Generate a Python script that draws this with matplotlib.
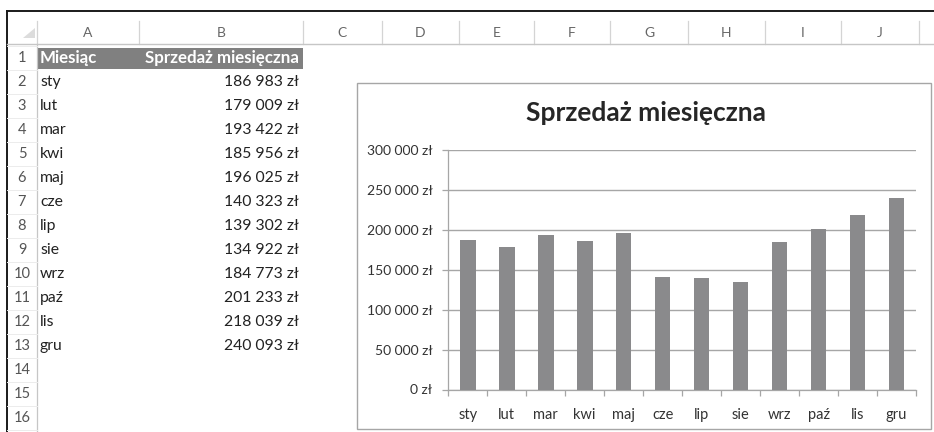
import numpy as np
import matplotlib
matplotlib.use("Agg")
import matplotlib.pyplot as plt
from matplotlib.patches import Rectangle, Polygon
from matplotlib.ticker import FuncFormatter, FixedLocator

plt.rcParams['font.family'] = ['Lato', 'DejaVu Sans']

# data from the sheet
months = ['sty', 'lut', 'mar', 'kwi', 'maj', 'cze', 'lip', 'sie', 'wrz', 'paź', 'lis', 'gru']
sales = [186983, 179009, 193422, 185956, 196025, 140323, 139302, 134922,
         184773, 201233, 218039, 240093]
col_letters = ['A', 'B', 'C', 'D', 'E', 'F', 'G', 'H', 'I', 'J']
header_a = 'Miesiąc'
header_b = 'Sprzedaż miesięczna'
chart_title = 'Sprzedaż miesięczna'
y_ticks = [0, 50000, 100000, 150000, 200000, 250000, 300000]


def zl(v):
    return '{:,}'.format(int(v)).replace(',', ' ') + ' zł'


W, H = 934, 432
fig = plt.figure(figsize=(W / 100, H / 100), dpi=100)

# sheet drawn in pixel coordinates
sh = fig.add_axes([0, 0, 1, 1])
sh.set_xlim(0, W)
sh.set_ylim(H, 0)
sh.axis('off')

col_edges = [37, 139, 303, 382, 459, 534, 610, 688, 765, 841, 919]
row_top = 46
row_h = 24.0
light = '#d4d4d4'

# frame lines
sh.plot([7.3, W], [10.7, 10.7], color='#1a1a1a', lw=1.4)
sh.plot([7.3, 7.3], [10.7, H], color='#1a1a1a', lw=1.4)

# column header
for x in col_edges:
    sh.plot([x, x], [21, 43.5], color=light, lw=0.9)
sh.plot([7.3, W], [43.5, 43.5], color='#c6c6c6', lw=1.0)
sh.add_patch(Polygon([[23, 38], [35, 38], [35, 28]], closed=True, color='#dcdcdc', lw=0))
for i, c in enumerate(col_letters):
    xc = (col_edges[i] + col_edges[i + 1]) / 2
    sh.text(xc, 33, c, ha='center', va='center', fontsize=10, color='#666666')

# row header
sh.plot([37, 37], [43.5, H], color='#c6c6c6', lw=0.9)
for r in range(17):
    yb = row_top + row_h * r
    sh.plot([7.3, 37], [yb, yb], color='#ececec', lw=0.7)
for r in range(16):
    sh.text(22, row_top + row_h * (r + 0.5), str(r + 1), ha='center', va='center',
            fontsize=10.5, color='#555555')

# header row 1
sh.add_patch(Rectangle((37.5, row_top + 1.5), 303 - 37.5, row_h - 2.5, color='#808080', lw=0))
yc = row_top + row_h * 0.5
sh.text(40, yc, header_a, ha='left', va='center', fontsize=12.2, fontweight='bold', color='white')
sh.text(299, yc, header_b, ha='right', va='center', fontsize=12.2, fontweight='bold', color='white')

# data rows
for i, (m, v) in enumerate(zip(months, sales)):
    yc = row_top + row_h * (i + 1.5)
    sh.text(40, yc, m, ha='left', va='center', fontsize=11.3, color='#222222')
    sh.text(299, yc, zl(v), ha='right', va='center', fontsize=11.3, color='#222222')

# chart box
sh.add_patch(Rectangle((356.7, 82.7), 931 - 356.7, 429 - 82.7, facecolor='white',
                       edgecolor='#a6a6a6', lw=1.0))
sh.text(646, 121, chart_title, ha='center', va='baseline', fontsize=19,
        fontweight='bold', color='#262626')

# chart axes
x0, x1 = 448.3, 916
y_top, y_bot = 150, 389.5
ax = fig.add_axes([x0 / W, 1 - y_bot / H, (x1 - x0) / W, (y_bot - y_top) / H])
ax.patch.set_alpha(0)
x = np.arange(len(months))
ax.bar(x, sales, width=0.4, color='#8a8a8c', zorder=3)
ax.set_xlim(-0.5, len(months) - 0.5)
ax.set_ylim(0, 300000)
ax.set_yticks(y_ticks)
ax.yaxis.set_major_formatter(FuncFormatter(lambda v, p: zl(v)))
ax.grid(axis='y', color='#a6a6a6', lw=1.0, zorder=0)
ax.set_xticks(x)
ax.set_xticklabels(months)
ax.xaxis.set_minor_locator(FixedLocator(np.arange(len(months) + 1) - 0.5))
ax.tick_params(axis='x', which='major', length=0, pad=13, labelsize=10.5, labelcolor='#333333')
ax.tick_params(axis='x', which='minor', length=4.5, width=0.9, color='#a6a6a6', direction='out')
ax.tick_params(axis='y', length=4.5, width=0.9, color='#a6a6a6', pad=7,
               labelsize=10, labelcolor='#333333')
for s in ['top', 'right']:
    ax.spines[s].set_visible(False)
for s in ['left', 'bottom']:
    ax.spines[s].set_color('#a6a6a6')
    ax.spines[s].set_linewidth(0.9)

fig.savefig('out.png', dpi=100)
